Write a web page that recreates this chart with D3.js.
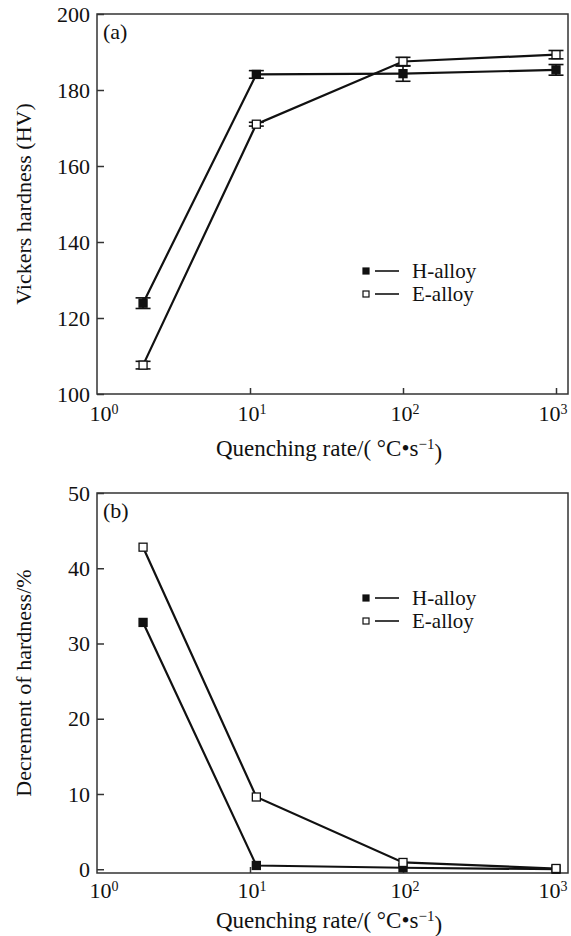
<!DOCTYPE html>
<html>
<head>
<meta charset="utf-8">
<script src="https://cdn.jsdelivr.net/npm/d3@7"></script>
<style>
  body { margin: 0; background: #fff; }
  text { font-family: "Liberation Serif", "Times New Roman", serif; fill: #111; }
</style>
</head>
<body>
<script>
// quenching rates (°C/s)
var rates = [2, 11, 100, 1000];
var alloys = ["H-alloy", "E-alloy"];

// (a) Vickers hardness
var hardH = [123.9, 184.1, 184.3, 185.3];
var hardE = [107.6, 171.0, 187.5, 189.3];
var errH = [1.4, 1.0, 2.0, 1.4];
var errE = [1.0, 0.5, 1.1, 1.1];

// (b) decrement of hardness
var decH = [32.8, 0.5, 0.2, 0.0];
var decE = [42.8, 9.6, 0.9, 0.1];

var xTicks = [1, 10, 100, 1000];
var yTicksA = [100, 120, 140, 160, 180, 200];
var yTicksB = [0, 10, 20, 30, 40, 50];

var W = 571, H = 936;
var svg = d3.select("body").append("svg")
    .attr("width", W)
    .attr("height", H);

function panel(opt) {
  var x = d3.scaleLog().domain([1, 1216]).range([97, 569]);
  var y = d3.scaleLinear().domain(opt.yDomain).range([opt.bottom, opt.top]);
  var g = svg.append("g");

  // frame
  g.append("rect")
      .attr("x", x.range()[0])
      .attr("y", opt.top)
      .attr("width", x.range()[1] - x.range()[0] - 1)
      .attr("height", opt.bottom - opt.top)
      .attr("fill", "none")
      .attr("stroke", "#333")
      .attr("stroke-width", 1.5);

  // left axis, ticks inward
  var ya = g.append("g")
      .attr("transform", "translate(" + x.range()[0] + ",0)")
      .call(d3.axisRight(y).tickValues(opt.yTicks).tickSize(7).tickFormat(""));
  ya.select(".domain").remove();
  ya.selectAll("line").attr("stroke", "#333").attr("stroke-width", 1.5);
  g.selectAll(".ylab")
      .data(opt.yTicks)
    .enter().append("text")
      .attr("x", 90)
      .attr("y", function(d) { return y(d); })
      .attr("dy", "0.35em")
      .attr("text-anchor", "end")
      .style("font-size", "22px")
      .text(function(d) { return d; });

  // bottom axis, ticks inward (no tick at 10^0)
  var xa = g.append("g")
      .attr("transform", "translate(0," + opt.bottom + ")")
      .call(d3.axisTop(x).tickValues(xTicks.slice(1)).tickSize(6).tickFormat(""));
  xa.select(".domain").remove();
  xa.selectAll("line").attr("stroke", "#333").attr("stroke-width", 1.5);
  var xl = g.selectAll(".xlab")
      .data(xTicks)
    .enter().append("text")
      .attr("x", function(d) { return x(d) + (d === 1 ? 7 : d === 1000 ? -3 : 2); })
      .attr("y", opt.bottom + opt.tickGap)
      .attr("text-anchor", "middle")
      .style("font-size", "22px");
  xl.append("tspan").text("10");
  xl.append("tspan")
      .attr("dy", "-0.5em")
      .style("font-size", "14px")
      .text(function(d) { return Math.round(Math.log10(d)); });

  // axis titles
  var xt = g.append("text")
      .attr("x", 329)
      .attr("y", opt.bottom + opt.titleGap)
      .attr("text-anchor", "middle")
      .style("font-size", "23px");
  xt.append("tspan").text("Quenching rate/( °C•s");
  xt.append("tspan").attr("dy", "-0.45em").style("font-size", "15px").text("−1");
  xt.append("tspan").attr("dy", "0.45em").text(")");

  g.append("text")
      .attr("transform", "translate(31," + ((opt.top + opt.bottom) / 2) + ") rotate(-90)")
      .attr("text-anchor", "middle")
      .style("font-size", "22px")
      .text(opt.yTitle);

  g.append("text")
      .attr("x", 103)
      .attr("y", opt.top + 25)
      .style("font-size", "22px")
      .text(opt.tag);

  var line = d3.line()
      .x(function(d) { return x(d.r); })
      .y(function(d) { return y(d.v); });

  opt.series.forEach(function(s) {
    var pts = rates.map(function(r, i) {
      return {r: r, v: s.values[i], e: s.err ? s.err[i] : 0};
    });
    g.append("path")
        .datum(pts)
        .attr("d", line)
        .attr("fill", "none")
        .attr("stroke", "#111")
        .attr("stroke-width", 2.2);

    if (s.err) {
      var eb = g.append("g").selectAll("g")
          .data(pts)
        .enter().append("g")
          .attr("stroke", "#111")
          .attr("stroke-width", 1.6);
      eb.append("line")
          .attr("x1", function(d) { return x(d.r); })
          .attr("x2", function(d) { return x(d.r); })
          .attr("y1", function(d) { return y(d.v - d.e); })
          .attr("y2", function(d) { return y(d.v + d.e); });
      [-1, 1].forEach(function(sg) {
        eb.append("line")
            .attr("x1", function(d) { return x(d.r) - 7.5; })
            .attr("x2", function(d) { return x(d.r) + 7.5; })
            .attr("y1", function(d) { return y(d.v + sg * d.e); })
            .attr("y2", function(d) { return y(d.v + sg * d.e); });
      });
    }

    g.selectAll(null)
        .data(pts)
      .enter().append("rect")
        .attr("x", function(d) { return x(d.r) - 4; })
        .attr("y", function(d) { return y(d.v) - 4; })
        .attr("width", 8)
        .attr("height", 8)
        .attr("fill", s.filled ? "#111" : "#fff")
        .attr("stroke", "#111")
        .attr("stroke-width", 1.3);
  });

  // legend
  var lg = g.selectAll(".leg")
      .data(opt.series)
    .enter().append("g")
      .attr("transform", function(d, i) { return "translate(366," + (opt.legendY + i * 23) + ")"; });
  lg.append("rect")
      .attr("x", -3).attr("y", -3)
      .attr("width", 6).attr("height", 6)
      .attr("fill", function(d) { return d.filled ? "#111" : "#fff"; })
      .attr("stroke", "#111")
      .attr("stroke-width", 1.2);
  lg.append("line")
      .attr("x1", 9).attr("x2", 33)
      .attr("stroke", "#111")
      .attr("stroke-width", 1.6);
  lg.append("text")
      .attr("x", 46)
      .attr("dy", "0.35em")
      .style("font-size", "21px")
      .text(function(d) { return d.name; });
}

panel({
  top: 14, bottom: 394,
  yDomain: [100, 200], yTicks: yTicksA,
  yTitle: "Vickers hardness (HV)", tag: "(a)",
  legendY: 271, tickGap: 27, titleGap: 62,
  series: [
    {name: alloys[0], values: hardH, err: errH, filled: true},
    {name: alloys[1], values: hardE, err: errE, filled: false}
  ]
});

panel({
  top: 493, bottom: 873,
  yDomain: [-0.5, 50], yTicks: yTicksB,
  yTitle: "Decrement of hardness/%", tag: "(b)",
  legendY: 598, tickGap: 25, titleGap: 55,
  series: [
    {name: alloys[0], values: decH, filled: true},
    {name: alloys[1], values: decE, filled: false}
  ]
});
</script>
</body>
</html>
